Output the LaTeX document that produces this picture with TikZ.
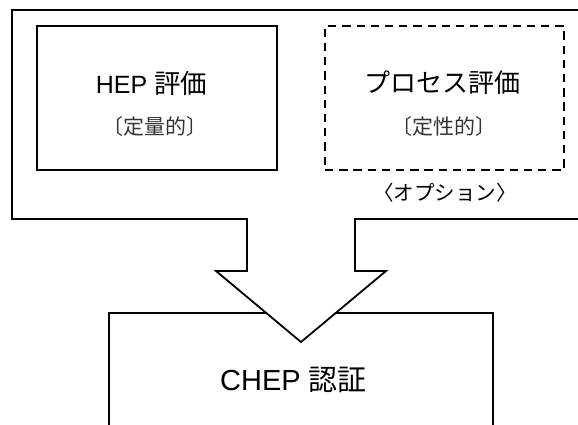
\documentclass[tikz,border=0pt]{standalone}
\usepackage{fontspec}
\setmainfont{Liberation Sans}
\newfontfamily\cjk{Noto Sans CJK JP}
\begin{document}
\begin{tikzpicture}[x=1pt,y=-1pt,
  frame/.style={draw=black,line width=1.8pt},
  solidbox/.style={draw=black,line width=1.7pt,minimum width=240pt,minimum height=144pt,inner sep=0pt},
  optbox/.style={draw=black,line width=1.7pt,dash pattern=on 8.3pt off 5.9pt,minimum width=239pt,minimum height=144pt,inner sep=0pt},
  title/.style={inner sep=0pt,font=\fontsize{25}{30}\selectfont},
  sub/.style={inner sep=0pt,text=black!80,font=\cjk\fontsize{21}{25}\selectfont},
  opt/.style={inner sep=0pt,font=\cjk\fontsize{20.5}{25}\selectfont}]
\useasboundingbox (0,0) rectangle (578,425);
\clip (0,0) rectangle (578,425);
% CHEP box (bottom runs off the page)
\coordinate (cbl) at (109,440);
\coordinate (ctl) at (109,313);
\coordinate (ctr) at (493,313);
\coordinate (cbr) at (493,440);
\draw[line width=1.5pt] (cbl) -- (ctl) -- (ctr) -- (cbr);
\node[title,font=\fontsize{29}{34}\selectfont] (chept) at (293.5,380) {CHEP {\cjk 認証}};
% outer frame with block arrow
\draw[frame,fill=white,line join=miter] (12,10) -- (590,10) -- (590,219) -- (355,219) -- (355,271)
  -- (386,271) -- (301,342) -- (216,271) -- (247,271) -- (247,219) -- (12,219) -- cycle;
% inner boxes
\node[solidbox] (hep) at (157,98) {};
\node[optbox] (proc) at (444.5,98) {};
\node[title] (hept) at (151.5,83) {HEP {\cjk\fontsize{26.5}{30}\selectfont 評価}};
\node[sub] (heps) at (155,127) {〔定量的〕};
\node[title,font=\cjk\fontsize{26}{30}\selectfont] (proct) at (442,83) {プロセス評価};
\node[sub] (procs) at (443.5,127) {〔定性的〕};
\node[opt] (optl) at (445,193) {〈オプション〉};
\end{tikzpicture}
\end{document}
